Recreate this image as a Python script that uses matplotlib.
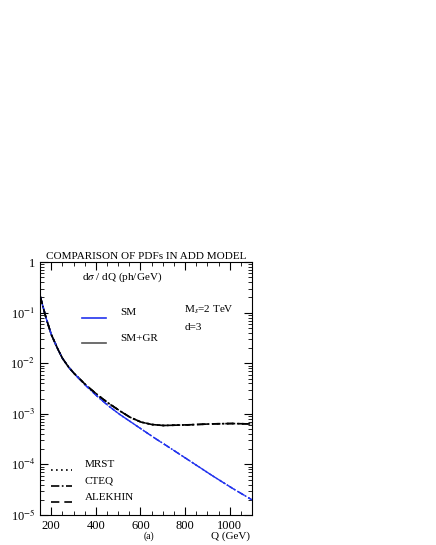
import numpy as np
import matplotlib
matplotlib.use("Agg")
import matplotlib.pyplot as plt

plt.rcParams['font.family'] = ['Liberation Serif', 'DejaVu Serif']
plt.rcParams['mathtext.fontset'] = 'stix'

Q = [150, 175, 200, 225, 250, 275, 300, 350, 400, 450, 500, 550, 600, 650, 700, 800, 900, 1000, 1100]
log_sm = [-0.67, -1.08, -1.43, -1.68, -1.90, -2.06, -2.19, -2.42, -2.63, -2.82, -2.99, -3.14, -3.29, -3.44, -3.58, -3.87, -4.16, -4.44, -4.70]
log_gr = [-0.67, -1.08, -1.43, -1.68, -1.90, -2.06, -2.19, -2.41, -2.60, -2.77, -2.92, -3.06, -3.16, -3.21, -3.23, -3.22, -3.20, -3.19, -3.20]
pdfs = ['MRST', 'CTEQ', 'ALEKHIN']
styles = [(0, (1, 2)), (0, (5, 1.5, 1, 1.5)), (0, (5, 3))]

Qf = np.linspace(150, 1100, 400)
sm = 10 ** np.interp(Qf, Q, log_sm)
gr = 10 ** np.interp(Qf, Q, log_gr)

fig = plt.figure(figsize=(4.36, 5.45), dpi=100)
ax = fig.add_axes([0.092, 0.055, 0.486, 0.464])
for ls in styles:
    ax.plot(Qf, sm, color='#2233ee', ls=ls, lw=1.0)
    ax.plot(Qf, gr, color='black', ls=ls, lw=1.2)
ax.set_yscale('log')
ax.set_xlim(150, 1100)
ax.set_ylim(1e-5, 1)
ax.set_xticks([200, 400, 600, 800, 1000])
ax.set_xticks(np.arange(150, 1101, 50), minor=True)
ax.set_yticks([1e-5, 1e-4, 1e-3, 1e-2, 1e-1, 1])
ax.set_yticklabels([r'10$^{-5}$', r'10$^{-4}$', r'10$^{-3}$', r'10$^{-2}$', r'10$^{-1}$', '1'])
ax.tick_params(which='both', direction='in', top=True, right=True, labelsize=9)
ax.tick_params(which='major', length=6)
ax.tick_params(which='minor', length=3)
ax.set_title('COMPARISON OF PDFs IN ADD MODEL', fontsize=8, pad=2)
ax.text(0.2, 0.93, r'd$\sigma$ / dQ (ph/GeV)', transform=ax.transAxes, fontsize=8)
ax.text(0.68, 0.80, r'M$_s$=2 TeV', transform=ax.transAxes, fontsize=8)
ax.text(0.68, 0.73, 'd=3', transform=ax.transAxes, fontsize=8)
for y, lab, c in [(0.79, 'SM', '#2233ee'), (0.69, 'SM+GR', '#555555')]:
    ax.plot([0.2, 0.31], [y - 0.01, y - 0.01], color=c, transform=ax.transAxes, lw=1.2)
    ax.text(0.38, y, lab, transform=ax.transAxes, fontsize=8)
for i, (lab, ls) in enumerate(zip(pdfs, styles)):
    y = 0.19 - i * 0.065
    ax.plot([0.05, 0.15], [y - 0.01, y - 0.01], color='black', ls=ls, transform=ax.transAxes, lw=1.2)
    ax.text(0.21, y, lab, transform=ax.transAxes, fontsize=8)
fig.text(0.33, 0.012, '(a)', fontsize=7)
fig.text(0.485, 0.012, 'Q (GeV)', fontsize=8)
fig.savefig('out.png', dpi=100)
